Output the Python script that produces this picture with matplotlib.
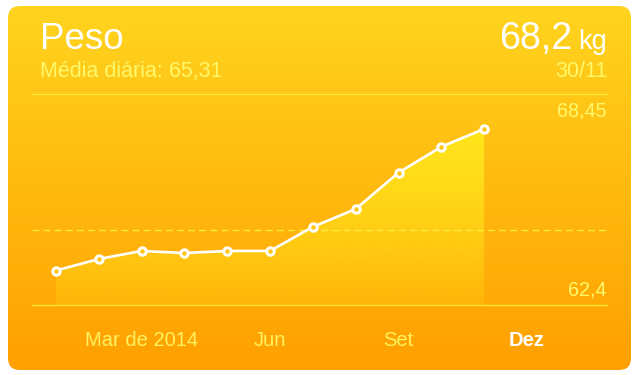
import numpy as np
import matplotlib
matplotlib.use("Agg")
import matplotlib.pyplot as plt
from matplotlib.patches import FancyBboxPatch, Polygon
from matplotlib.colors import to_rgb
import matplotlib.transforms as mtransforms

plt.rcParams['font.family'] = ['Liberation Sans', 'DejaVu Sans']

# ---- data ----
months = list(range(11))  # Jan..Nov 2014
weights = [64.15, 64.48, 64.71, 64.65, 64.71, 64.71, 65.40, 65.91, 66.95, 67.69, 68.20]
average = 65.31
tick_pos = [2, 5, 8, 11]
tick_labels = ["Mar de 2014", "Jun", "Set", "Dez"]
title = "Peso"
current_value = "68,2"
unit = "kg"
current_date = "30/11"
avg_label = "Média diária: 65,31"
max_label = "68,45"
min_label = "62,4"

W, H = 639, 375
fig = plt.figure(figsize=(W / 100, H / 100), dpi=100)
fig.patch.set_facecolor("white")

# background card
bg = fig.add_axes([0, 0, 1, 1])
bg.set_xlim(0, W)
bg.set_ylim(H, 0)
bg.axis("off")
top_c = np.array(to_rgb("#FFD41F"))
bot_c = np.array(to_rgb("#FFA000"))
t = np.linspace(0, 1, 256)[:, None]
grad = (top_c[None, :] * (1 - t) + bot_c[None, :] * t)[:, None, :]
card = FancyBboxPatch((8, 6), 623, 364, boxstyle="round,pad=0,rounding_size=12",
                      transform=bg.transData, facecolor="none", edgecolor="none")
bg.add_patch(card)
im = bg.imshow(grad, extent=[8, 631, 370, 6], aspect="auto", interpolation="bilinear", zorder=0)
im.set_clip_path(card)

# header texts
txt_yellow = "#FFF86A"
bg.text(40, 49, title, fontsize=26.5, color="white", va="baseline", ha="left")
bg.text(572, 49, current_value, fontsize=27, color="white", va="baseline", ha="right")
bg.text(607, 49, unit, fontsize=19.5, color="white", va="baseline", ha="right")
bg.text(40, 77, avg_label, fontsize=15.5, color=txt_yellow, va="baseline", ha="left")
bg.text(607, 77, current_date, fontsize=15.5, color=txt_yellow, va="baseline", ha="right")

# main chart axes
x0, x1, ytop, ybot = 32, 607, 94, 305
ax = fig.add_axes([x0 / W, (H - ybot) / H, (x1 - x0) / W, (ybot - ytop) / H])
ax.patch.set_alpha(0)
xlo, xhi = -0.561, 12.87
ylo, yhi = 63.164, 69.20
for s in ax.spines.values():
    s.set_visible(False)
ax.set_xticks([])
ax.set_yticks([])

line_c = "#FFEC3A"
ax.axhline(yhi, color=line_c, lw=0.9, clip_on=False)
ax.axhline(ylo, color=line_c, lw=0.9, clip_on=False)
ax.axhline(average, color=line_c, lw=1.0, ls=(0, (5, 3)))

# gradient fill under line
xs = np.array(months, dtype=float)
ys = np.array(weights)
verts = [(xs[0], ylo)] + list(zip(xs, ys)) + [(xs[-1], ylo)]
poly = Polygon(verts, closed=True, facecolor="none", edgecolor="none", transform=ax.transData)
ax.add_patch(poly)
fill_c = np.array(to_rgb("#FFE81C"))
a = np.linspace(0.95, 0.18, 256)[:, None]
fimg = np.zeros((256, 1, 4))
fimg[:, 0, :3] = fill_c
fimg[:, 0, 3] = a[:, 0]
fim = ax.imshow(fimg, extent=[xs[0], xs[-1], ylo, max(weights)], aspect="auto",
                interpolation="bilinear", zorder=1)
fim.set_clip_path(poly)

ax.plot(xs, ys, color="white", lw=1.9, marker="o", ms=5.4, mew=2.1,
        mfc="#FFC613", mec="white", zorder=3, clip_on=False)

ax.set_xlim(xlo, xhi)
ax.set_ylim(ylo, yhi)

# right labels
ax.text(1.0, 1 - (116.7 - ytop) / (ybot - ytop), max_label, transform=ax.transAxes,
        fontsize=14.2, color=txt_yellow, ha="right", va="baseline")
ax.text(1.0, (ybot - 296) / (ybot - ytop), min_label, transform=ax.transAxes,
        fontsize=14.2, color=txt_yellow, ha="right", va="baseline")

# month labels
trans = mtransforms.blended_transform_factory(ax.transData, ax.transAxes)
yb = (ybot - 346) / (ybot - ytop)
for p, lab in zip(tick_pos, tick_labels):
    last = lab == tick_labels[-1]
    ax.text(p, yb, lab, transform=trans, fontsize=14.5, ha="center", va="baseline",
            color="white" if last else "#FFF25E", fontweight="bold" if last else "normal",
            clip_on=False)

fig.savefig("out.png", dpi=100, facecolor="white")
